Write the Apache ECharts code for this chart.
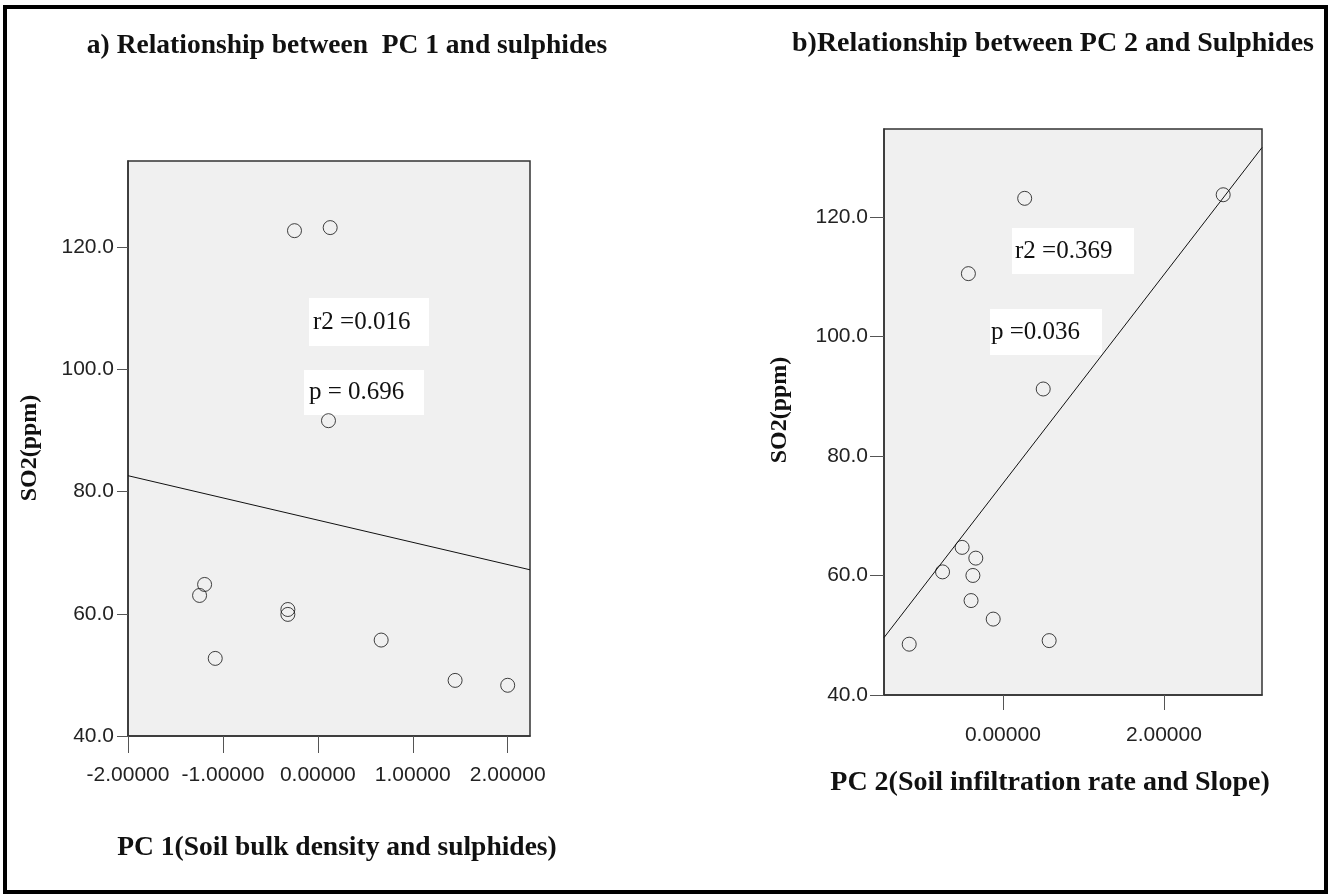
<!DOCTYPE html>
<html>
<head>
<meta charset="utf-8">
<script src="https://cdn.jsdelivr.net/npm/echarts@6/dist/echarts.min.js"></script>
<style>
  html, body { margin: 0; padding: 0; background: #fff; }
  #chart { width: 1330px; height: 894px; }
</style>
</head>
<body>
<div id="chart"></div>
<script>
  // a) PC 1 vs SO2
  var pc1Scores = [-0.246, 0.130, 0.112, -1.193, -1.246, -1.081, -0.316, -0.316, 0.667, 1.446, 2.000];
  var pc1So2 = [122.7, 123.2, 91.6, 64.8, 63.0, 52.7, 60.7, 59.9, 55.7, 49.1, 48.3];
  var fitA = [[-2.0, 82.6], [2.235, 67.2]];
  // b) PC 2 vs SO2
  var pc2Scores = [0.271, -0.428, 0.501, 2.736, -0.506, -0.749, -0.336, -0.372, -0.395, -0.120, -1.163, 0.575];
  var pc2So2 = [123.1, 110.5, 91.2, 123.7, 64.7, 60.6, 62.9, 60.0, 55.8, 52.7, 48.5, 49.1];
  var fitB = [[-1.476, 49.6], [3.218, 131.6]];

  var xTicksA = [-2, -1, 0, 1, 2];
  var xTicksB = [0, 2];
  var yTicks = [40, 60, 80, 100, 120];

  var serif = 'Liberation Serif';
  var sans = 'Liberation Sans';

  function pairs(xs, ys) {
    var out = [];
    for (var i = 0; i < xs.length; i++) {
      out.push([xs[i], ys[i]]);
    }
    return out;
  }

  function xAxisOf(idx, min, max, ticks, margin, tickLen) {
    return {
      gridIndex: idx, type: 'value', min: min, max: max,
      splitLine: { show: false },
      axisLine: { show: true, onZero: false, lineStyle: { color: '#333', width: 1.5 } },
      axisTick: { show: true, length: tickLen, customValues: ticks, lineStyle: { color: '#555' } },
      axisLabel: {
        customValues: ticks, margin: margin, color: '#222', fontFamily: sans, fontSize: 21,
        formatter: function (v) { return v.toFixed(5); }
      }
    };
  }

  function yAxisOf(idx, max, margin, tickLen) {
    return {
      gridIndex: idx, type: 'value', min: 40, max: max,
      splitLine: { show: false },
      axisLine: { show: true, onZero: false, lineStyle: { color: '#333', width: 1.5 } },
      axisTick: { show: true, length: tickLen, customValues: yTicks, lineStyle: { color: '#555' } },
      axisLabel: {
        customValues: yTicks, margin: margin, color: '#222', fontFamily: sans, fontSize: 21,
        formatter: function (v) { return v.toFixed(1); }
      }
    };
  }

  function statBox(x, y, w, h, txt, tx) {
    return {
      type: 'group',
      children: [
        { type: 'rect', shape: { x: x, y: y, width: w, height: h }, style: { fill: '#fff' } },
        {
          type: 'text', x: tx, y: y + h / 2,
          style: { text: txt, font: '25px ' + serif, fill: '#111', verticalAlign: 'middle' }
        }
      ]
    };
  }

  function label(txt, x, y, size, rot) {
    return {
      type: 'text', x: x, y: y, rotation: rot || 0,
      style: {
        text: txt, font: 'bold ' + size + 'px ' + serif, fill: '#111',
        align: 'center', verticalAlign: 'middle'
      }
    };
  }

  var scatterStyle = { color: 'rgba(0,0,0,0)', borderColor: '#111', borderWidth: 1 };

  var chart = echarts.init(document.getElementById('chart'));
  chart.setOption({
    animation: false,
    grid: [
      { left: 128, top: 161, width: 402, height: 575, show: true, backgroundColor: '#f0f0f0', borderColor: '#333', borderWidth: 1.5 },
      { left: 884, top: 129, width: 378, height: 566, show: true, backgroundColor: '#f0f0f0', borderColor: '#333', borderWidth: 1.5 }
    ],
    xAxis: [
      xAxisOf(0, -2, 2.235, xTicksA, 29, 17),
      xAxisOf(1, -1.476, 3.218, xTicksB, 30, 15)
    ],
    yAxis: [
      yAxisOf(0, 134.1, 14, 11),
      yAxisOf(1, 134.7, 16, 14)
    ],
    series: [
      {
        type: 'line', xAxisIndex: 0, yAxisIndex: 0, data: fitA, showSymbol: false,
        lineStyle: { color: '#111', width: 1 }, silent: true
      },
      {
        type: 'scatter', xAxisIndex: 0, yAxisIndex: 0, data: pairs(pc1Scores, pc1So2),
        symbol: 'circle', symbolSize: 14, itemStyle: scatterStyle
      },
      {
        type: 'line', xAxisIndex: 1, yAxisIndex: 1, data: fitB, showSymbol: false,
        lineStyle: { color: '#111', width: 1 }, silent: true
      },
      {
        type: 'scatter', xAxisIndex: 1, yAxisIndex: 1, data: pairs(pc2Scores, pc2So2),
        symbol: 'circle', symbolSize: 14, itemStyle: scatterStyle
      }
    ],
    graphic: [
      {
        type: 'rect', shape: { x: 5, y: 7, width: 1321, height: 885 },
        style: { fill: 'none', stroke: '#000', lineWidth: 4 }, z: 100
      },
      label('a) Relationship between  PC 1 and sulphides', 347, 46, 27.5),
      label('b)Relationship between PC 2 and Sulphides', 1053, 44, 28),
      label('SO2(ppm)', 30, 448, 24, Math.PI / 2),
      label('SO2(ppm)', 780, 410, 24, Math.PI / 2),
      label('PC 1(Soil bulk density and sulphides)', 337, 848, 27.5),
      label('PC 2(Soil infiltration rate and Slope)', 1050, 783, 28),
      statBox(309, 298, 120, 48, 'r2 =0.016', 313),
      statBox(304, 370, 120, 45, 'p = 0.696', 309),
      statBox(1012, 228, 122, 46, 'r2 =0.369', 1015),
      statBox(990, 309, 112, 46, 'p =0.036', 991)
    ]
  });
</script>
</body>
</html>
